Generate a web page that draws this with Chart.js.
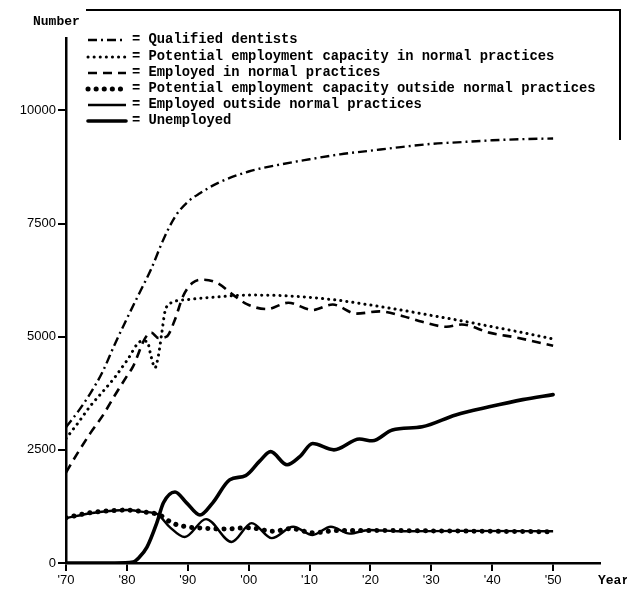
<!doctype html>
<html lang="en">
<head>
<meta charset="utf-8">
<title>Dentists projection</title>
<style>
  html, body { margin: 0; padding: 0; background: #fff; }
  canvas { display: block; }
</style>
</head>
<body>
<canvas id="myChart" width="627" height="594"></canvas>
<script src="https://cdn.jsdelivr.net/npm/chart.js"></script>
<script>
// values
const qualifiedYears = [1970, 1972, 1974, 1976, 1978, 1980, 1982, 1984, 1986, 1988, 1990, 1992, 1995, 2000, 2005, 2010, 2015, 2020, 2025, 2030, 2035, 2040, 2045, 2050];
const qualified      = [3000, 3350, 3750, 4220, 4830, 5400, 5950, 6500, 7150, 7670, 7980, 8170, 8400, 8650, 8800, 8920, 9030, 9110, 9190, 9260, 9300, 9340, 9365, 9380];

const capNormalYears = [1970, 1972, 1974, 1976, 1978, 1980, 1982.4, 1983.3, 1984, 1984.6, 1985.2, 1985.7, 1986.3, 1987.5, 1990, 1995, 2000, 2005, 2010, 2015, 2020, 2025, 2030, 2035, 2040, 2045, 2050];
const capNormal      = [2750, 3100, 3470, 3780, 4100, 4470, 4900, 4900, 4550, 4310, 4600, 5050, 5580, 5760, 5820, 5880, 5920, 5910, 5870, 5800, 5700, 5590, 5470, 5350, 5220, 5090, 4950];

const empNormalYears = [1970, 1972, 1974, 1976, 1978, 1980, 1981, 1983, 1984, 1985.2, 1986.5, 1987.9, 1989.2, 1990.8, 1992.5, 1994.8, 1997.4, 1999.7, 2003, 2006.5, 2010.5, 2013.8, 2017.7, 2021.5, 2025.2, 2028.5, 2032.5, 2035, 2039.5, 2044, 2050];
const empNormal      = [2000, 2450, 2870, 3250, 3700, 4130, 4340, 4970, 5090, 4970, 5000, 5380, 5890, 6190, 6260, 6190, 5930, 5720, 5610, 5750, 5590, 5710, 5510, 5560, 5460, 5330, 5220, 5270, 5090, 4980, 4800];

const capOutsideYears = [1970, 1974, 1978, 1980, 1982.7, 1985.4, 1987.5, 1989.8, 1992.5, 1996, 2000, 2004, 2007, 2010.5, 2015, 2020, 2030, 2040, 2050];
const capOutside      = [1000, 1110, 1160, 1170, 1130, 1060, 880, 800, 770, 750, 780, 700, 760, 670, 720, 720, 710, 700, 690];

const empOutsideYears = [1970, 1974, 1978, 1980, 1982.7, 1985, 1987, 1989.5, 1993, 1997.2, 2000.5, 2003.8, 2007.3, 2010.5, 2013.5, 2016.6, 2019.8, 2025, 2035, 2050];
const empOutside      = [990, 1100, 1160, 1170, 1130, 1080, 800, 575, 970, 465, 880, 550, 800, 620, 800, 650, 730, 700, 710, 700];

const unemployedYears = [1970, 1978, 1981, 1982, 1983.3, 1984.9, 1986, 1987.9, 1989.8, 1992, 1994.1, 1996.9, 1999.5, 2001.8, 2003.6, 2006.3, 2008.4, 2010.5, 2014, 2018.2, 2020.3, 2023.6, 2028.5, 2034, 2039.5, 2045, 2050];
const unemployed      = [0, 0, 20, 120, 350, 880, 1330, 1570, 1330, 1060, 1330, 1840, 1930, 2250, 2460, 2170, 2350, 2640, 2500, 2740, 2700, 2940, 3010, 3270, 3450, 3610, 3720];

const yTicks = [0, 2500, 5000, 7500, 10000];
const xTicks = [1970, 1980, 1990, 2000, 2010, 2020, 2030, 2040, 2050];

const legendLabels = [
  'Qualified dentists',
  'Potential employment capacity in normal practices',
  'Employed in normal practices',
  'Potential employment capacity outside normal practices',
  'Employed outside normal practices',
  'Unemployed'
];

function pts(xs, ys) {
  return xs.map((x, i) => ({ x: x, y: ys[i] }));
}

function series(label, xs, ys, width, dash, cap) {
  return {
    label: label,
    data: pts(xs, ys),
    borderColor: '#000',
    borderWidth: width,
    borderDash: dash,
    borderCapStyle: cap,
    pointRadius: 0,
    fill: false,
    cubicInterpolationMode: 'monotone'
  };
}

const datasets = [
  series(legendLabels[0], qualifiedYears, qualified, 2.4, [9, 4, 2, 4], 'butt'),
  series(legendLabels[1], capNormalYears, capNormal, 3, [0.1, 6], 'round'),
  series(legendLabels[2], empNormalYears, empNormal, 2.6, [9, 6], 'butt'),
  series(legendLabels[3], capOutsideYears, capOutside, 5, [0.1, 8], 'round'),
  series(legendLabels[4], empOutsideYears, empOutside, 2.4, [], 'butt'),
  series(legendLabels[5], unemployedYears, unemployed, 3.6, [], 'round')
];

// legend, axis titles and the scanned frame
const extras = {
  id: 'extras',
  afterDraw(chart) {
    const c = chart.ctx;
    c.save();
    c.fillStyle = '#000';
    c.strokeStyle = '#000';

    c.lineWidth = 2;
    c.beginPath();
    c.moveTo(86, 10);
    c.lineTo(620, 10);
    c.lineTo(620, 140);
    c.stroke();

    c.font = 'bold 13px "Liberation Mono", monospace';
    c.textBaseline = 'middle';
    c.textAlign = 'left';
    c.fillText('Number', 33, 22);
    c.fillText('Year', 598, 581);

    c.font = 'bold 13.8px "Liberation Mono", monospace';
    const rowY = [40, 57, 73, 89, 105, 121];
    datasets.forEach((ds, i) => {
      const y = rowY[i];
      c.save();
      c.lineWidth = ds.borderWidth;
      c.setLineDash(ds.borderDash);
      c.lineCap = ds.borderCapStyle;
      c.beginPath();
      c.moveTo(88, y);
      c.lineTo(126, y);
      c.stroke();
      c.restore();
      c.fillText('= ' + ds.label, 132, y);
    });
    c.restore();
  }
};

const ctx = document.getElementById('myChart');
const myChart = new Chart(ctx, {
  type: 'line',
  data: { datasets: datasets },
  plugins: [extras],
  options: {
    responsive: false,
    animation: false,
    layout: { padding: { top: 38, right: 27, left: 0, bottom: 0 } },
    plugins: { legend: { display: false }, tooltip: { enabled: false } },
    scales: {
      x: {
        type: 'linear',
        min: 1970,
        max: 2057.7,
        afterBuildTicks: s => { s.ticks = xTicks.map(v => ({ value: v })); },
        afterFit: s => { s.height = 31; },
        border: { display: true, color: '#000', width: 2.5 },
        grid: { drawOnChartArea: false, drawTicks: true, tickLength: 8, color: '#000', lineWidth: 2 },
        ticks: {
          padding: 2,
          color: '#000',
          font: { family: '"Liberation Sans", Arial, sans-serif', size: 13 },
          callback: v => "'" + String(v % 100).padStart(2, '0')
        }
      },
      y: {
        min: 0,
        max: 11600,
        afterBuildTicks: s => { s.ticks = yTicks.map(v => ({ value: v })); },
        afterFit: s => { s.width = 66; },
        border: { display: true, color: '#000', width: 2.5 },
        grid: { drawOnChartArea: false, drawTicks: true, tickLength: 8, color: '#000', lineWidth: 2 },
        ticks: {
          padding: 2,
          color: '#000',
          font: { family: '"Liberation Sans", Arial, sans-serif', size: 13 },
          callback: v => String(v)
        }
      }
    }
  }
});
</script>
</body>
</html>
